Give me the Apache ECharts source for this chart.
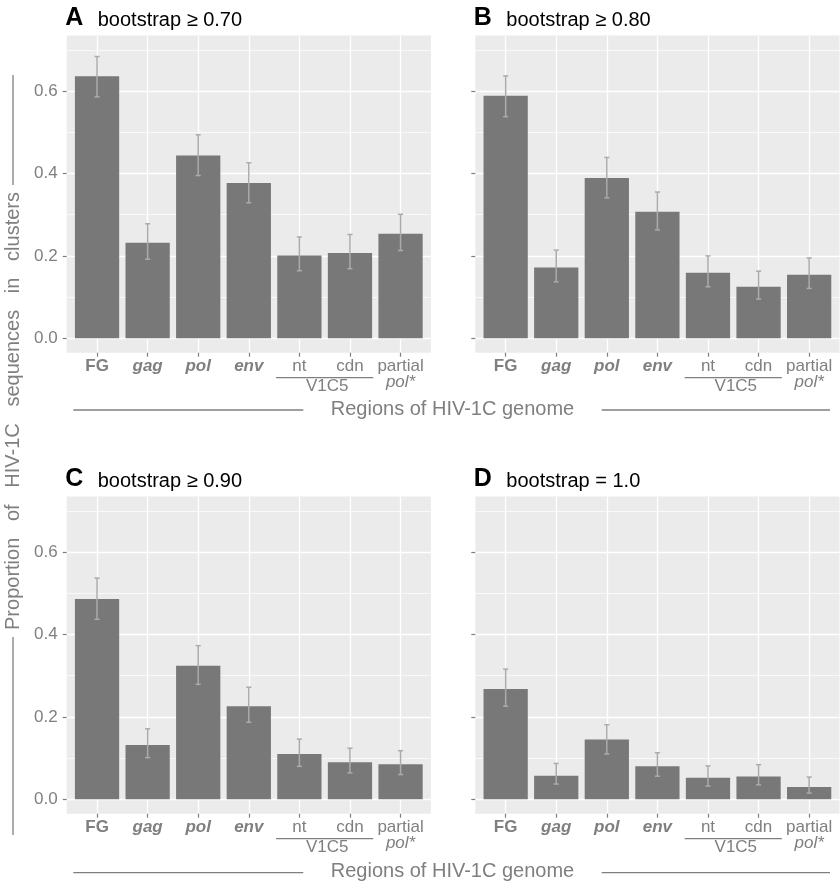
<!DOCTYPE html>
<html><head><meta charset="utf-8">
<script src="https://cdn.jsdelivr.net/npm/echarts@6/dist/echarts.min.js"></script>
<style>html,body{margin:0;padding:0;background:#fff}#c{width:840px;height:883px}</style>
</head><body><div id="c"></div>
<script>
// ---- data ----
const categories = ['FG', 'gag', 'pol', 'env', 'nt', 'cdn', 'partial pol*'];
const categoryLabels = ['{b|FG}', '{bi|gag}', '{bi|pol}', '{bi|env}', '{n|nt}', '{n|cdn}', '{n|partial}\n{it|pol*}'];
const groupLabel = 'V1C5';
const panelLetters = ['A', 'B', 'C', 'D'];
const panelTitles = ['bootstrap \u2265 0.70', 'bootstrap \u2265 0.80', 'bootstrap \u2265 0.90', 'bootstrap = 1.0'];
const yTicks = [0, 0.2, 0.4, 0.6];
const xTitle = 'Regions of HIV-1C genome';
const yTitle = 'Proportion   of   HIV-1C   sequences   in   clusters';

const propA = [0.636, 0.232, 0.444, 0.377, 0.201, 0.207, 0.254];
const lowA  = [0.586, 0.192, 0.395, 0.329, 0.164, 0.169, 0.213];
const highA = [0.684, 0.278, 0.494, 0.426, 0.246, 0.252, 0.301];

const propB = [0.589, 0.172, 0.389, 0.307, 0.159, 0.125, 0.154];
const lowB  = [0.538, 0.137, 0.341, 0.263, 0.125, 0.095, 0.121];
const highB = [0.637, 0.214, 0.439, 0.355, 0.200, 0.163, 0.195];

const propC = [0.486, 0.132, 0.324, 0.226, 0.110, 0.090, 0.085];
const lowC  = [0.437, 0.101, 0.279, 0.187, 0.080, 0.064, 0.060];
const highC = [0.537, 0.171, 0.373, 0.272, 0.146, 0.124, 0.118];

const propD = [0.268, 0.057, 0.145, 0.080, 0.052, 0.055, 0.030];
const lowD  = [0.226, 0.037, 0.110, 0.056, 0.032, 0.035, 0.015];
const highD = [0.316, 0.087, 0.181, 0.113, 0.081, 0.084, 0.054];

const panels = [
  {prop: propA, low: lowA, high: highA},
  {prop: propB, low: lowB, high: highB},
  {prop: propC, low: lowC, high: highC},
  {prop: propD, low: lowD, high: highD}
];

// ---- layout / style ----
const FONT = "'Liberation Sans', Arial, Helvetica, sans-serif";
const GRAY_TXT = '#7F7F7F';
const BAR = '#787878';
const ERR = '#ABABAB';
const PANEL_BG = '#EBEBEB';
const gridPos = [
  {left: 66.7, top: 35.5}, {left: 475.3, top: 35.5},
  {left: 66.7, top: 496.5}, {left: 475.3, top: 496.5}
];
const GW = 364.2, GH = 317.2;
const catIdx = categories.map((c, i) => i);

const chart = echarts.init(document.getElementById('c'), null, {renderer: 'canvas'});

function renderErr(params, api) {
  const x = api.value(0), lo = api.value(1), hi = api.value(2);
  const pLo = api.coord([x, lo]), pHi = api.coord([x, hi]);
  const half = api.size([0.05, 0])[0];
  const style = {stroke: ERR, lineWidth: 1.5, fill: null};
  return {type: 'group', children: [
    {type: 'line', shape: {x1: pLo[0], y1: pLo[1], x2: pHi[0], y2: pHi[1]}, style: style},
    {type: 'line', shape: {x1: pHi[0] - half, y1: pHi[1], x2: pHi[0] + half, y2: pHi[1]}, style: style},
    {type: 'line', shape: {x1: pLo[0] - half, y1: pLo[1], x2: pLo[0] + half, y2: pLo[1]}, style: style}
  ]};
}

const richLab = {
  b: {fontFamily: FONT, fontSize: 17, fontWeight: 'bold', color: GRAY_TXT, lineHeight: 16},
  bi: {fontFamily: FONT, fontSize: 17, fontWeight: 'bold', fontStyle: 'italic', color: GRAY_TXT, lineHeight: 16},
  n: {fontFamily: FONT, fontSize: 17, color: GRAY_TXT, lineHeight: 16},
  it: {fontFamily: FONT, fontSize: 17, fontStyle: 'italic', color: GRAY_TXT, lineHeight: 16}
};

const option = {
  animation: false,
  backgroundColor: '#ffffff',
  grid: gridPos.map(g => ({left: g.left, top: g.top, width: GW, height: GH, show: true,
    backgroundColor: PANEL_BG, borderWidth: 0, containLabel: false})),
  xAxis: panels.map((p, i) => ({
    type: 'value', gridIndex: i, min: -0.6, max: 6.6, position: 'bottom',
    axisLine: {show: false, onZero: false},
    axisTick: {show: true, customValues: catIdx, length: 4, lineStyle: {color: GRAY_TXT, width: 1.2}},
    axisLabel: {show: true, customValues: catIdx, margin: 6, formatter: v => categoryLabels[Math.round(v)], rich: richLab},
    splitLine: {show: true, lineStyle: {color: '#FFFFFF', width: 1.3}}
  })),
  yAxis: panels.map((p, i) => ({
    type: 'value', gridIndex: i, min: -0.035, max: 0.735, splitNumber: 4, position: 'left',
    axisLine: {show: false, onZero: false},
    axisTick: {show: true, customValues: yTicks, length: 4, lineStyle: {color: GRAY_TXT, width: 1.2}},
    axisLabel: {show: i % 2 === 0, customValues: yTicks, margin: 9, formatter: v => v.toFixed(1),
      fontFamily: FONT, fontSize: 17, color: GRAY_TXT},
    splitLine: {show: true, lineStyle: {color: '#FFFFFF', width: 1.3}},
    minorTick: {show: false, splitNumber: 2},
    minorSplitLine: {show: true, lineStyle: {color: '#FFFFFF', width: 0.7}}
  })),
  series: []
};

panels.forEach((p, i) => {
  option.series.push({
    type: 'bar', xAxisIndex: i, yAxisIndex: i, barWidth: '87.5%', z: 2,
    itemStyle: {color: BAR}, silent: true,
    data: p.prop.map((v, k) => [k, v])
  });
  option.series.push({
    type: 'custom', xAxisIndex: i, yAxisIndex: i, z: 3, silent: true,
    renderItem: renderErr, encode: {x: 0, y: [1, 2]},
    data: p.low.map((l, k) => [k, l, p.high[k]])
  });
});

chart.setOption(option);

// ---- annotations ----
const graphics = [];
gridPos.forEach((g, i) => {
  const base = g.top - 8.5;
  graphics.push({type: 'text', x: g.left - 1.5, y: base - 8.7, silent: true,
    style: {text: panelLetters[i], fontFamily: FONT, fontSize: 25, fontWeight: 'bold', fill: '#000', align: 'left', verticalAlign: 'middle'}});
  graphics.push({type: 'text', x: g.left + 31, y: base - 7, silent: true,
    style: {text: panelTitles[i], fontFamily: FONT, fontSize: 20, fill: '#000', align: 'left', verticalAlign: 'middle'}});
  // V1C5 group label
  const pa = chart.convertToPixel({gridIndex: i}, [3.54, -0.035]);
  const pb = chart.convertToPixel({gridIndex: i}, [5.46, -0.035]);
  const pm = chart.convertToPixel({gridIndex: i}, [4.55, -0.035]);
  graphics.push({type: 'line', silent: true, shape: {x1: pa[0], y1: pa[1] + 25, x2: pb[0], y2: pb[1] + 25},
    style: {stroke: GRAY_TXT, lineWidth: 1.2}});
  graphics.push({type: 'text', silent: true, x: pm[0], y: pm[1] + 33.5,
    style: {text: groupLabel, fontFamily: FONT, fontSize: 17, fill: GRAY_TXT, align: 'center', verticalAlign: 'middle'}});
});
// x titles
[35.5 + GH + 56.3, 496.5 + GH + 58].forEach(y => {
  graphics.push({type: 'text', silent: true, x: 452.5, y: y,
    style: {text: xTitle, fontFamily: FONT, fontSize: 20, fill: GRAY_TXT, align: 'center', verticalAlign: 'middle'}});
  graphics.push({type: 'line', silent: true, shape: {x1: 73.3, y1: y + 1, x2: 303.3, y2: y + 1}, style: {stroke: GRAY_TXT, lineWidth: 1.3}});
  graphics.push({type: 'line', silent: true, shape: {x1: 601.7, y1: y + 1, x2: 830, y2: y + 1}, style: {stroke: GRAY_TXT, lineWidth: 1.3}});
});
// y title
graphics.push({type: 'text', silent: true, x: 13, y: 411, rotation: Math.PI / 2,
  style: {text: yTitle, fontFamily: FONT, fontSize: 20, fill: GRAY_TXT, align: 'center', verticalAlign: 'middle'}});
graphics.push({type: 'line', silent: true, shape: {x1: 13, y1: 75, x2: 13, y2: 185}, style: {stroke: GRAY_TXT, lineWidth: 1.3}});
graphics.push({type: 'line', silent: true, shape: {x1: 13, y1: 637, x2: 13, y2: 835}, style: {stroke: GRAY_TXT, lineWidth: 1.3}});

chart.setOption({graphic: graphics});
</script>
</body></html>
